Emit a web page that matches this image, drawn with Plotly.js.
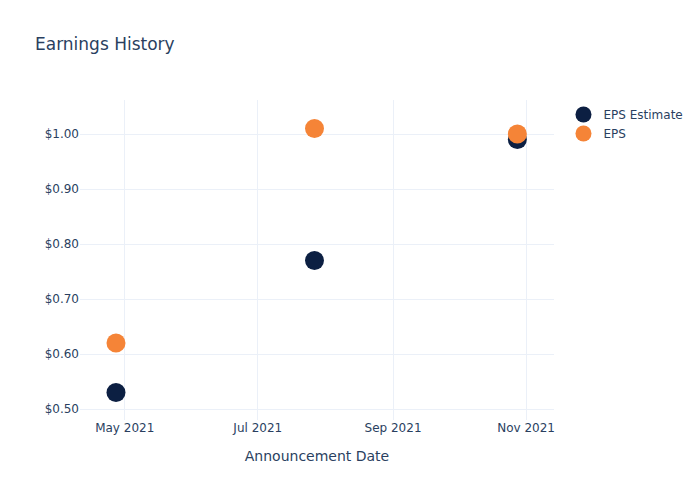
<!DOCTYPE html>
<html>
<head>
<meta charset="utf-8">
<script src="https://cdn.plot.ly/plotly-3.0.1.min.js"></script>
<style>html,body{margin:0;padding:0;}#chart{width:700px;height:500px;}</style>
</head>
<body>
<div id="chart"></div>
<script>
const dates = ["2021-04-27", "2021-07-27", "2021-10-28"];
const epsEstimate = [0.53, 0.77, 0.99];
const epsActual = [0.62, 1.01, 1.00];

const traces = [
  {x: dates, y: epsEstimate, name: "EPS Estimate", type: "scatter", mode: "markers",
   marker: {color: "#0c1f42", size: 19}},
  {x: dates, y: epsActual, name: "EPS", type: "scatter", mode: "markers",
   marker: {color: "#f58437", size: 19}}
];

const layout = {
  width: 700, height: 500,
  template: "plotly_white",
  font: {family: "DejaVu Sans, sans-serif", color: "#2a3f5f", size: 12},
  paper_bgcolor: "#ffffff", plot_bgcolor: "#ffffff",
  title: {text: "Earnings History", x: 0.05, font: {size: 17}},
  xaxis: {title: {text: "Announcement Date", standoff: 17}, gridcolor: "#ebf0f8", zeroline: false,
          tickformat: "%b %Y", dtick: "M2", ticklabelstandoff: -1,
          range: ["2021-04-10 12:00", "2021-11-13 19:00"]},
  yaxis: {tickformat: "$.2f", gridcolor: "#ebf0f8", zeroline: false, range: [0.48, 1.062]},
  legend: {font: {size: 12}},
  margin: {l: 80, r: 80, t: 100, b: 80}
};

Plotly.newPlot("chart", traces, layout, {displayModeBar: false});
</script>
</body>
</html>
